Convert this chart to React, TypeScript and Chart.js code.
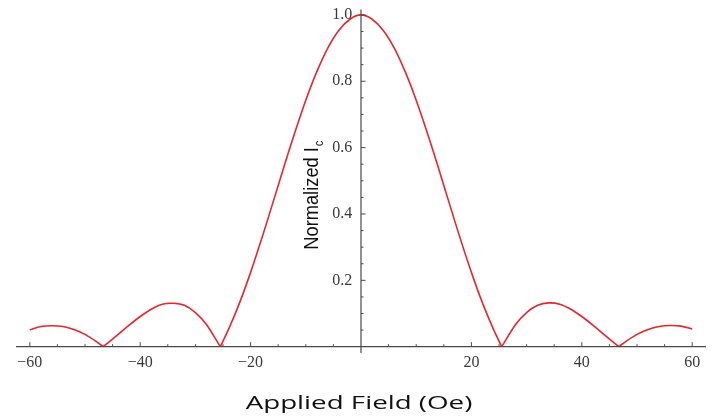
import React, { useEffect, useRef } from "react";
import { Chart, registerables } from "chart.js";

Chart.register(...registerables);

// Applied field (Oe)
const fieldOe = [
  -60, -58, -56, -54, -52, -50, -48, -46.7, -44, -42, -40, -38, -36, -34, -32, -30, -28, -25.5,
  -24, -22, -20, -18, -16, -14, -12, -10, -8, -6, -4, -2, 0,
  2, 4, 6, 8, 10, 12, 14, 16, 18, 20, 22, 24, 25.5,
  28, 30, 32, 34, 36, 38, 40, 42, 44, 46.7, 48, 50, 52, 54, 56, 58, 60,
];

// Normalized critical current
const normalizedIc = [
  0.051, 0.061, 0.063, 0.061, 0.052, 0.037, 0.016, 0, 0.037, 0.065, 0.091, 0.113, 0.128, 0.131, 0.125, 0.103, 0.067, 0,
  0.052, 0.132, 0.224, 0.325, 0.432, 0.54, 0.645, 0.743, 0.829, 0.901, 0.954, 0.987, 1,
  0.987, 0.954, 0.901, 0.829, 0.743, 0.645, 0.54, 0.432, 0.325, 0.224, 0.132, 0.052, 0,
  0.067, 0.103, 0.125, 0.132, 0.128, 0.113, 0.091, 0.065, 0.037, 0, 0.016, 0.037, 0.052, 0.061, 0.064, 0.062, 0.053,
];

const xTickValues = [-60, -40, -20, 20, 40, 60];
const xTickLabels = ["\u221260", "\u221240", "\u221220", "20", "40", "60"];
const yTickValues = [0.2, 0.4, 0.6, 0.8, 1.0];
const yTickLabels = ["0.2", "0.4", "0.6", "0.8", "1.0"];
const xMinorTicks = [-60, -55, -50, -45, -40, -35, -30, -25, -20, -15, -10, -5, 5, 10, 15, 20, 25, 30, 35, 40, 45, 50, 55, 60];
const yMinorTicks = [0.05, 0.1, 0.15, 0.2, 0.25, 0.3, 0.35, 0.4, 0.45, 0.5, 0.55, 0.6, 0.65, 0.7, 0.75, 0.8, 0.85, 0.9, 0.95, 1.0];

const xAxisTitle = "Applied Field (Oe)";
const yAxisTitle = "Normalized I";
const yAxisSubscript = "c";

const lineColor = "#e8262d";
const axisColor = "#4a4a4a";
const labelColor = "#3a3a3a";

function isMajor(v: number, majors: number[]) {
  return majors.some((m) => Math.abs(m - v) < 1e-9);
}

const mmaAxesPlugin = {
  id: "mmaAxes",
  afterDraw(chart: any) {
    const { ctx, chartArea } = chart;
    const xs = chart.scales.x;
    const ys = chart.scales.y;
    const x0 = xs.getPixelForValue(0);
    const y0 = ys.getPixelForValue(0);
    ctx.save();
    ctx.strokeStyle = axisColor;
    ctx.lineWidth = 1.2;
    ctx.beginPath();
    ctx.moveTo(chartArea.left, y0);
    ctx.lineTo(chartArea.right, y0);
    ctx.moveTo(x0, chartArea.top);
    ctx.lineTo(x0, chartArea.bottom);
    ctx.stroke();
    ctx.lineWidth = 1;
    ctx.beginPath();
    xMinorTicks.forEach((v) => {
      const px = xs.getPixelForValue(v);
      const len = isMajor(v, xTickValues) ? 4.5 : 2.5;
      ctx.moveTo(px, y0);
      ctx.lineTo(px, y0 - len);
    });
    yMinorTicks.forEach((v) => {
      const py = ys.getPixelForValue(v);
      const len = isMajor(v, yTickValues) ? 4.5 : 2.5;
      ctx.moveTo(x0, py);
      ctx.lineTo(x0 + len, py);
    });
    ctx.stroke();

    // x-axis title
    ctx.fillStyle = "#111";
    ctx.font = '18px "Open Sans"';
    ctx.textAlign = "center";
    ctx.textBaseline = "alphabetic";
    ctx.save();
    ctx.translate(x0 - 2, y0 + 62);
    ctx.scale(1.54, 1);
    ctx.fillText(xAxisTitle, 0, 0);
    ctx.restore();

    // y-axis title (rotated)
    ctx.save();
    ctx.translate(x0 - 43, y0 - 97);
    ctx.rotate(-Math.PI / 2);
    ctx.scale(0.87, 1);
    ctx.textAlign = "left";
    ctx.font = '21px "Liberation Sans"';
    ctx.fillText(yAxisTitle, 0, 0);
    const w = ctx.measureText(yAxisTitle).width;
    ctx.font = '13px "Liberation Sans"';
    ctx.fillText(yAxisSubscript, w + 1, 5);
    ctx.restore();
    ctx.restore();
  },
};

function buildSegments() {
  const segments: { x: number; y: number }[][] = [];
  let current: { x: number; y: number }[] = [];
  fieldOe.forEach((f, i) => {
    const pt = { x: f, y: normalizedIc[i] };
    current.push(pt);
    if (normalizedIc[i] === 0 && current.length > 1) {
      segments.push(current);
      current = [pt];
    }
  });
  if (current.length > 1) segments.push(current);
  return segments;
}

export default function App() {
  const canvasRef = useRef<HTMLCanvasElement | null>(null);

  useEffect(() => {
    if (!canvasRef.current) return;
    const segments = buildSegments();
    const chart = new Chart(canvasRef.current, {
      type: "line",
      data: {
        datasets: segments.map((seg) => ({
          data: seg,
          borderColor: lineColor,
          borderWidth: 1.6,
          pointRadius: 0,
          tension: 0.3,
          fill: false,
        })),
      },
      options: {
        responsive: false,
        animation: false,
        events: [],
        layout: { padding: { left: 16, right: 8, top: 8, bottom: 63 } },
        plugins: {
          legend: { display: false },
          tooltip: { enabled: false },
          title: { display: false },
        },
        scales: {
          x: {
            type: "linear",
            min: -62.5,
            max: 62.5,
            position: { y: 0 } as any,
            grid: { display: false, drawTicks: false },
            border: { display: false },
            afterBuildTicks: (s: any) => {
              s.ticks = xTickValues.map((value) => ({ value }));
            },
            afterFit: (s: any) => {
              s.height = 0;
            },
            ticks: {
              autoSkip: false,
              maxRotation: 0,
              padding: 7,
              color: labelColor,
              font: { family: '"Liberation Serif"', size: 16 },
              callback: (v: any) => {
                const i = xTickValues.indexOf(Number(v));
                return i >= 0 ? xTickLabels[i] : "";
              },
            },
          },
          y: {
            type: "linear",
            min: -0.019,
            max: 1.016,
            // labels anchor just left of the x = 0 axis line (drawn by the plugin)
            position: { x: -1.6 } as any,
            grid: { display: false, drawTicks: false },
            border: { display: false },
            afterBuildTicks: (s: any) => {
              s.ticks = yTickValues.map((value) => ({ value }));
            },
            afterFit: (s: any) => {
              s.width = 0;
            },
            ticks: {
              autoSkip: false,
              padding: 0,
              color: labelColor,
              font: { family: '"Liberation Serif"', size: 16 },
              callback: (v: any) => {
                const i = yTickValues.findIndex((t) => Math.abs(t - Number(v)) < 1e-9);
                return i >= 0 ? yTickLabels[i] : "";
              },
            },
          },
        },
      },
      plugins: [mmaAxesPlugin],
    });
    return () => chart.destroy();
  }, []);

  return (
    <div style={{ position: "absolute", left: 0, top: 0, width: 714, height: 416, background: "#fff" }}>
      <canvas ref={canvasRef} width={714} height={416} />
    </div>
  );
}
